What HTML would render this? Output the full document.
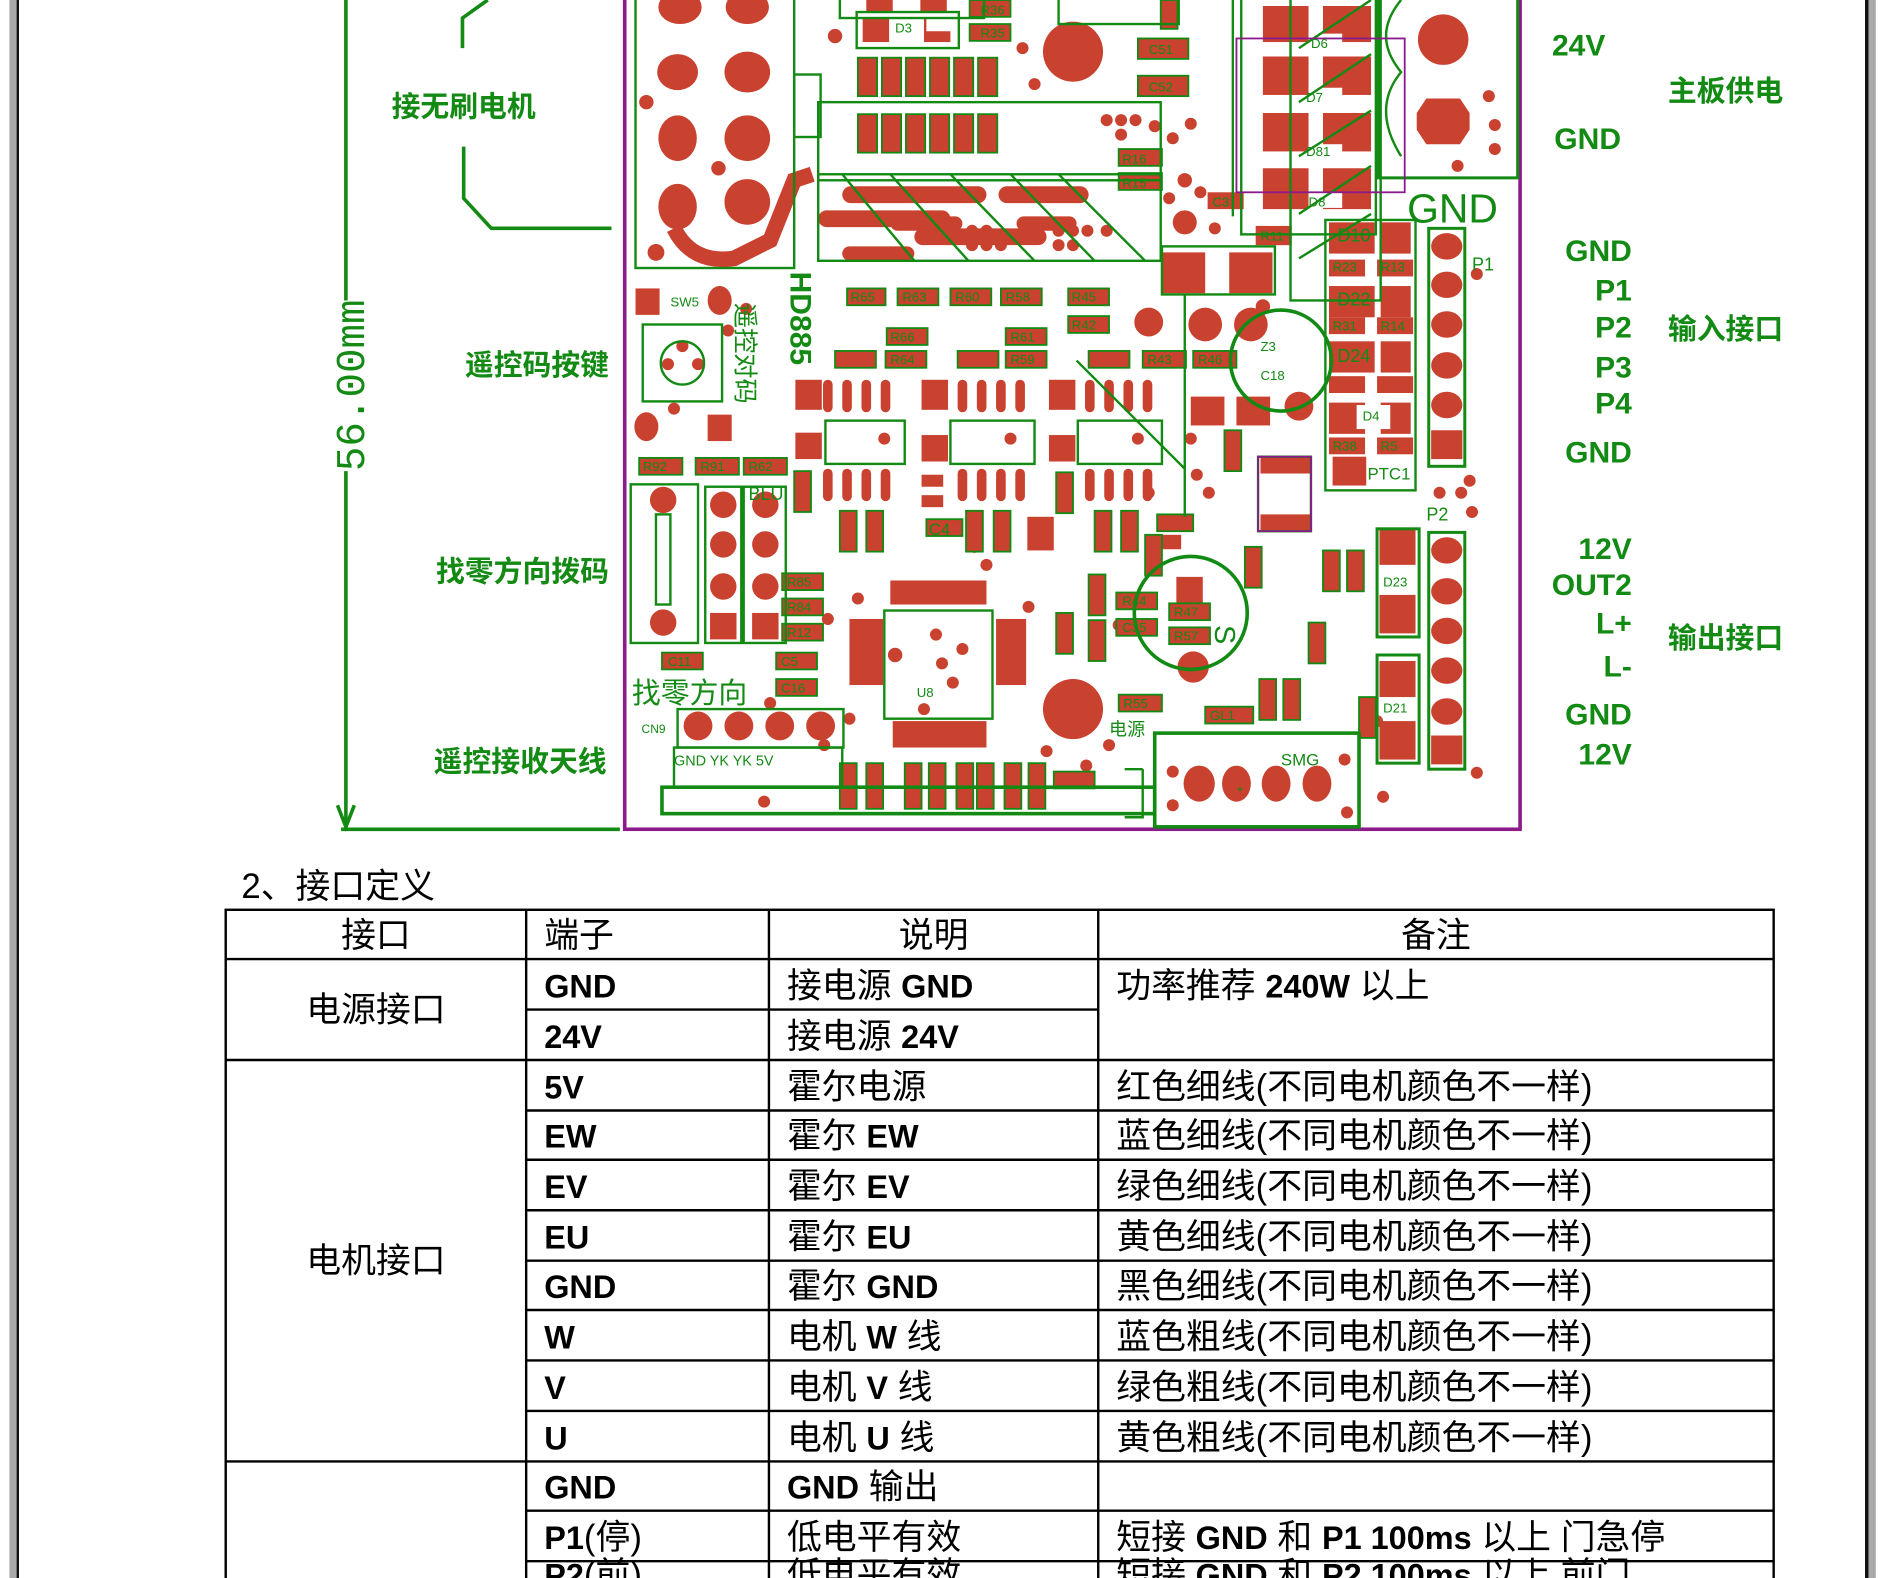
<!DOCTYPE html>
<html><head><meta charset="utf-8"><style>
html,body{margin:0;padding:0;background:#fff;}
svg{display:block}
.g{fill:#138a13;font-family:"Liberation Sans","Noto Sans CJK SC",sans-serif;font-weight:bold}
.gl{fill:#138a13;font-family:"Liberation Sans","Noto Sans CJK SC",sans-serif;font-size:11px}
.t{font-family:"Liberation Sans","Noto Sans CJK SC",sans-serif;font-size:29px;fill:#000}
.b{font-weight:bold}
</style></head><body>
<svg width="1884" height="1578" viewBox="0 0 1566 1313" xmlns="http://www.w3.org/2000/svg">
<rect x="0" y="0" width="1566" height="1313" fill="#fff"/>
<rect x="7" y="0" width="6" height="1313" fill="#aaa"/>
<rect x="13" y="0" width="2" height="1313" fill="#111"/>
<rect x="1551" y="0" width="3" height="1313" fill="#111"/>
<rect x="1554" y="0" width="6" height="1313" fill="#aaa"/>

<!-- dimension -->
<g stroke="#138a13" stroke-width="3" fill="none">
<line x1="287" y1="0" x2="287" y2="250"/>
<line x1="287" y1="392" x2="287" y2="688"/>
<polyline points="280,670 287,688 294,670"/>
<line x1="283" y1="690" x2="515" y2="690"/>
<polyline points="405,0 384,15 384,40"/>
<polyline points="385,122 385,165 408,190 508,190"/>
</g>
<text transform="translate(302,392) rotate(-90)" style="fill:#138a13;font-family:'Liberation Mono',monospace;font-size:34px">56.00mm</text>
<g class="g" font-size="24">
<text x="325" y="97">接无刷电机</text>
<text x="386" y="312">遥控码按键</text>
<text x="362" y="484">找零方向拨码</text>
<text x="360" y="642">遥控接收天线</text>
<text x="1387" y="84">主板供电</text>
<text x="1387" y="282">输入接口</text>
<text x="1387" y="539">输出接口</text>
</g>
<g class="g" font-size="25" text-anchor="end">
<text x="1335" y="46">24V</text>
<text x="1348" y="124">GND</text>
<text x="1357" y="217">GND</text>
<text x="1357" y="250">P1</text>
<text x="1357" y="281">P2</text>
<text x="1357" y="314">P3</text>
<text x="1357" y="344">P4</text>
<text x="1357" y="385">GND</text>
<text x="1357" y="465">12V</text>
<text x="1357" y="495">OUT2</text>
<text x="1357" y="527">L+</text>
<text x="1357" y="563">L-</text>
<text x="1357" y="603">GND</text>
<text x="1357" y="636">12V</text>
</g>

<!-- PCB -->
<g>
<rect x="519" y="-5" width="745" height="695" fill="none" stroke="#8b1a8b" stroke-width="3"/>
<g fill="#c9412f">
<!-- big left pads -->
<ellipse cx="565" cy="6" rx="18" ry="14"/><ellipse cx="621" cy="6" rx="18" ry="14"/>
<ellipse cx="563" cy="60" rx="17" ry="15"/><ellipse cx="621" cy="60" rx="19" ry="17"/>
<ellipse cx="563" cy="115" rx="16" ry="19"/><ellipse cx="621" cy="115" rx="19" ry="19"/>
<ellipse cx="563" cy="172" rx="16" ry="19"/><ellipse cx="621" cy="168" rx="19" ry="19"/>
<circle cx="537" cy="85" r="6"/><circle cx="597" cy="140" r="6"/><circle cx="545" cy="210" r="7"/>
<path d="M560 190 Q575 220 610 215 L640 200 L660 150 L675 145" stroke="#c9412f" stroke-width="13" fill="none"/>
<circle cx="892" cy="43" r="25"/><circle cx="892" cy="590" r="25"/>
<circle cx="694" cy="30" r="6"/><circle cx="850" cy="40" r="5"/><circle cx="860" cy="70" r="5"/>
<!-- slotted pads -->
<rect x="700" y="155" width="120" height="14" rx="7"/><rect x="830" y="155" width="75" height="14" rx="7"/>
<rect x="680" y="175" width="110" height="14" rx="7"/><rect x="760" y="190" width="110" height="14" rx="7"/>
<rect x="700" y="205" width="60" height="12" rx="6"/><rect x="740" y="180" width="60" height="12" rx="6"/>
<rect x="845" y="180" width="50" height="12" rx="6"/>
<!-- dot clusters -->
<circle cx="808" cy="192" r="5"/><circle cx="820" cy="192" r="5"/><circle cx="808" cy="204" r="5"/><circle cx="820" cy="204" r="5"/><circle cx="832" cy="204" r="5"/>
<circle cx="880" cy="192" r="5"/><circle cx="892" cy="192" r="5"/><circle cx="904" cy="192" r="5"/><circle cx="880" cy="204" r="5"/><circle cx="892" cy="204" r="5"/><circle cx="920" cy="192" r="5"/>
<circle cx="920" cy="100" r="5"/><circle cx="932" cy="100" r="5"/><circle cx="944" cy="100" r="5"/><circle cx="932" cy="112" r="5"/><circle cx="960" cy="105" r="5"/><circle cx="975" cy="115" r="5"/><circle cx="990" cy="103" r="5"/>
<circle cx="985" cy="185" r="10"/><circle cx="985" cy="150" r="6"/><circle cx="998" cy="160" r="5"/><circle cx="972" cy="165" r="5"/><circle cx="1010" cy="190" r="5"/>
<!-- D6..D8 -->
<rect x="1050" y="5" width="38" height="30"/><rect x="1100" y="5" width="40" height="30"/>
<rect x="1050" y="47" width="38" height="32"/><rect x="1100" y="47" width="40" height="32"/>
<rect x="1050" y="94" width="38" height="32"/><rect x="1100" y="94" width="40" height="32"/>
<rect x="1050" y="140" width="38" height="34"/><rect x="1100" y="140" width="40" height="34"/>
<!-- terminal -->
<circle cx="1200" cy="33" r="21"/><polygon points="1186,82 1214,82 1222,94 1222,108 1214,120 1186,120 1178,108 1178,94"/>
<circle cx="1238" cy="80" r="5"/><circle cx="1243" cy="104" r="5"/><circle cx="1243" cy="124" r="5"/><circle cx="1212" cy="138" r="5"/>
<!-- P1 pads -->
<ellipse cx="1203" cy="205" rx="13" ry="11"/><ellipse cx="1203" cy="237" rx="13" ry="11"/><ellipse cx="1203" cy="270" rx="13" ry="11"/><ellipse cx="1203" cy="304" rx="13" ry="11"/><ellipse cx="1203" cy="337" rx="13" ry="11"/><rect x="1190" y="358" width="26" height="24"/>
<ellipse cx="1203" cy="458" rx="13" ry="11"/><ellipse cx="1203" cy="492" rx="13" ry="11"/><ellipse cx="1203" cy="525" rx="13" ry="11"/><ellipse cx="1203" cy="558" rx="13" ry="11"/><ellipse cx="1203" cy="592" rx="13" ry="11"/><rect x="1190" y="612" width="26" height="24"/>
<circle cx="1228" cy="228" r="5"/><circle cx="1222" cy="400" r="5"/><circle cx="1197" cy="410" r="5"/><circle cx="1215" cy="410" r="5"/><circle cx="1224" cy="426" r="5"/><circle cx="1228" cy="643" r="5"/>
<!-- D10.. column -->
<rect x="1105" y="185" width="38" height="26"/><rect x="1148" y="185" width="25" height="26"/>
<rect x="1105" y="238" width="38" height="26"/><rect x="1148" y="238" width="25" height="26"/>
<rect x="1105" y="284" width="38" height="26"/><rect x="1148" y="284" width="25" height="26"/>
<rect x="1105" y="335" width="30" height="26"/><rect x="1148" y="335" width="25" height="26"/>
<rect x="1108" y="380" width="28" height="24"/>
<rect x="1105" y="216" width="30" height="14"/><rect x="1145" y="216" width="30" height="14"/>
<rect x="1105" y="264" width="30" height="14"/><rect x="1145" y="264" width="30" height="14"/>
<rect x="1105" y="313" width="30" height="14"/><rect x="1145" y="313" width="30" height="14"/>
<rect x="1105" y="364" width="30" height="14"/><rect x="1145" y="364" width="30" height="14"/>
<!-- D1 and circle area -->
<rect x="966" y="210" width="36" height="34"/><rect x="1022" y="210" width="36" height="34"/>
<circle cx="955" cy="268" r="12"/><circle cx="1002" cy="270" r="14"/><circle cx="1040" cy="270" r="14"/><circle cx="1080" cy="338" r="12"/><circle cx="1050" cy="255" r="6"/>
<rect x="1048" y="380" width="42" height="14"/><rect x="1048" y="428" width="42" height="14"/>
<rect x="990" y="330" width="28" height="24"/><rect x="1028" y="330" width="28" height="24"/>
<!-- D23/D21 -->
<rect x="1147" y="440" width="30" height="30"/><rect x="1147" y="495" width="30" height="32"/>
<rect x="1147" y="550" width="30" height="30"/><rect x="1147" y="600" width="30" height="32"/>
<!-- SMG -->
<ellipse cx="997" cy="652" rx="13" ry="15"/><ellipse cx="1028" cy="652" rx="12" ry="15"/><ellipse cx="1061" cy="652" rx="12" ry="15"/><ellipse cx="1095" cy="652" rx="12" ry="15"/>
<circle cx="975" cy="642" r="5"/><circle cx="975" cy="670" r="5"/><circle cx="1118" cy="632" r="5"/><circle cx="1120" cy="676" r="5"/><circle cx="1150" cy="663" r="5"/><circle cx="1145" cy="600" r="5"/>
<!-- LS1 -->
<rect x="978" y="480" width="22" height="24"/><circle cx="992" cy="555" r="13"/><rect x="962" y="445" width="20" height="12"/>
<!-- ICs -->
<g>
<rect x="684" y="316" width="8" height="27" rx="4"/><rect x="700" y="316" width="8" height="27" rx="4"/><rect x="716" y="316" width="8" height="27" rx="4"/><rect x="732" y="316" width="8" height="27" rx="4"/>
<rect x="684" y="390" width="8" height="27" rx="4"/><rect x="700" y="390" width="8" height="27" rx="4"/><rect x="716" y="390" width="8" height="27" rx="4"/><rect x="732" y="390" width="8" height="27" rx="4"/>
<rect x="796" y="316" width="8" height="27" rx="4"/><rect x="812" y="316" width="8" height="27" rx="4"/><rect x="828" y="316" width="8" height="27" rx="4"/><rect x="844" y="316" width="8" height="27" rx="4"/>
<rect x="796" y="390" width="8" height="27" rx="4"/><rect x="812" y="390" width="8" height="27" rx="4"/><rect x="828" y="390" width="8" height="27" rx="4"/><rect x="844" y="390" width="8" height="27" rx="4"/>
<rect x="902" y="316" width="8" height="27" rx="4"/><rect x="918" y="316" width="8" height="27" rx="4"/><rect x="934" y="316" width="8" height="27" rx="4"/><rect x="950" y="316" width="8" height="27" rx="4"/>
<rect x="902" y="390" width="8" height="27" rx="4"/><rect x="918" y="390" width="8" height="27" rx="4"/><rect x="934" y="390" width="8" height="27" rx="4"/><rect x="950" y="390" width="8" height="27" rx="4"/>
</g>
<rect x="661" y="316" width="22" height="25"/><rect x="766" y="316" width="22" height="25"/><rect x="872" y="316" width="22" height="25"/>
<rect x="661" y="360" width="22" height="22"/><rect x="766" y="362" width="22" height="22"/><rect x="872" y="362" width="22" height="22"/>
<circle cx="735" cy="365" r="5"/><circle cx="840" cy="365" r="5"/><circle cx="946" cy="365" r="5"/>
<rect x="766" y="395" width="18" height="10"/><rect x="766" y="412" width="18" height="10"/>
<rect x="854" y="430" width="22" height="28"/><rect x="740" y="483" width="80" height="20"/>
<!-- U8 -->
<rect x="706" y="515" width="28" height="55"/><rect x="828" y="515" width="25" height="55"/>
<rect x="742" y="600" width="78" height="22"/>
<circle cx="744" cy="545" r="6"/><circle cx="778" cy="528" r="5"/><circle cx="783" cy="552" r="5"/><circle cx="792" cy="568" r="5"/><circle cx="800" cy="540" r="5"/><circle cx="768" cy="590" r="5"/>
<!-- misc dots -->
<circle cx="713" cy="498" r="5"/><circle cx="688" cy="515" r="5"/><circle cx="706" cy="598" r="5"/><circle cx="810" cy="455" r="5"/><circle cx="820" cy="470" r="5"/><circle cx="855" cy="505" r="5"/><circle cx="930" cy="520" r="5"/><circle cx="870" cy="625" r="5"/><circle cx="955" cy="410" r="5"/><circle cx="995" cy="395" r="5"/><circle cx="990" cy="365" r="5"/><circle cx="1005" cy="410" r="5"/>
<circle cx="640" cy="585" r="5"/><circle cx="635" cy="667" r="5"/><circle cx="685" cy="620" r="5"/><circle cx="705" cy="640" r="5"/><circle cx="922" cy="620" r="5"/><circle cx="903" cy="637" r="5"/>
<!-- SW5 -->
<rect x="528" y="240" width="20" height="22"/><ellipse cx="598" cy="250" rx="10" ry="12"/>
<ellipse cx="537" cy="355" rx="10" ry="12"/><rect x="588" y="345" width="20" height="22"/>
<circle cx="567" cy="288" r="5"/><circle cx="555" cy="303" r="5"/><circle cx="580" cy="303" r="5"/>
<circle cx="620" cy="257" r="5"/><circle cx="605" cy="275" r="5"/><circle cx="560" cy="340" r="5"/>
<!-- SW6 / J -->
<circle cx="551" cy="416" r="11"/><circle cx="551" cy="518" r="11"/>
<circle cx="601" cy="420" r="11"/><circle cx="601" cy="453" r="11"/><circle cx="601" cy="488" r="11"/><rect x="590" y="510" width="22" height="22"/>
<circle cx="636" cy="420" r="11"/><circle cx="636" cy="453" r="11"/><circle cx="636" cy="488" r="11"/><rect x="625" y="510" width="22" height="22"/>
<!-- CN9 -->
<circle cx="580" cy="604" r="12"/><circle cx="614" cy="604" r="12"/><circle cx="648" cy="604" r="12"/><circle cx="682" cy="604" r="12"/>
<!-- D3/D2 top -->
<rect x="720" y="-2" width="22" height="12"/><rect x="765" y="-2" width="22" height="12"/>
<rect x="717" y="15" width="22" height="20"/><rect x="768" y="15" width="22" height="20"/>
<rect x="1004" y="160" width="30" height="14"/><rect x="1044" y="188" width="30" height="16"/>
</g>

<!-- small component boxes with labels -->
<g fill="#c9412f" stroke="#138a13" stroke-width="1.5">
<!-- vertical pairs top rows -->
<rect x="713" y="48" width="16" height="32"/><rect x="733" y="48" width="16" height="32"/><rect x="753" y="48" width="16" height="32"/><rect x="773" y="48" width="16" height="32"/><rect x="793" y="48" width="16" height="32"/><rect x="813" y="48" width="16" height="32"/>
<rect x="713" y="95" width="16" height="32"/><rect x="733" y="95" width="16" height="32"/><rect x="753" y="95" width="16" height="32"/><rect x="773" y="95" width="16" height="32"/><rect x="793" y="95" width="16" height="32"/><rect x="813" y="95" width="16" height="32"/>
<rect x="806" y="0" width="34" height="14"/><rect x="806" y="20" width="34" height="14"/>
<rect x="946" y="32" width="42" height="17"/><rect x="946" y="63" width="42" height="17"/>
<rect x="930" y="124" width="36" height="14"/><rect x="930" y="144" width="36" height="14"/>
<rect x="965" y="0" width="14" height="24"/>
<!-- mid row -->
<rect x="704" y="240" width="32" height="14"/><rect x="746" y="240" width="34" height="14"/><rect x="790" y="240" width="34" height="14"/><rect x="832" y="240" width="34" height="14"/><rect x="888" y="240" width="34" height="14"/>
<rect x="737" y="273" width="34" height="14"/><rect x="836" y="273" width="34" height="14"/><rect x="888" y="263" width="34" height="14"/>
<rect x="694" y="292" width="34" height="14"/><rect x="736" y="292" width="34" height="14"/><rect x="796" y="292" width="34" height="14"/><rect x="836" y="292" width="34" height="14"/><rect x="905" y="292" width="34" height="14"/>
<rect x="950" y="292" width="36" height="14"/><rect x="992" y="292" width="36" height="14"/>
<!-- lower row -->
<rect x="698" y="425" width="14" height="34"/><rect x="720" y="425" width="14" height="34"/><rect x="803" y="425" width="14" height="34"/><rect x="826" y="425" width="14" height="34"/>
<rect x="910" y="425" width="14" height="34"/><rect x="932" y="425" width="14" height="34"/><rect x="952" y="445" width="14" height="34"/>
<rect x="660" y="392" width="14" height="34"/><rect x="878" y="393" width="14" height="34"/><rect x="1018" y="358" width="14" height="34"/>
<rect x="770" y="432" width="30" height="14"/><rect x="962" y="428" width="30" height="14"/>
<rect x="650" y="477" width="34" height="14"/><rect x="650" y="498" width="34" height="14"/><rect x="650" y="519" width="34" height="14"/>
<rect x="645" y="543" width="34" height="14"/><rect x="645" y="565" width="34" height="14"/><rect x="550" y="543" width="34" height="14"/>
<rect x="531" y="381" width="36" height="14"/><rect x="578" y="381" width="36" height="14"/><rect x="618" y="381" width="36" height="14"/>
<rect x="878" y="510" width="14" height="34"/><rect x="905" y="478" width="14" height="34"/><rect x="905" y="516" width="14" height="34"/>
<rect x="928" y="493" width="34" height="14"/><rect x="928" y="515" width="34" height="14"/><rect x="972" y="502" width="34" height="14"/><rect x="972" y="522" width="34" height="14"/>
<rect x="930" y="578" width="36" height="14"/><rect x="1002" y="588" width="40" height="14"/>
<rect x="1047" y="565" width="14" height="34"/><rect x="1067" y="565" width="14" height="34"/><rect x="1130" y="580" width="14" height="34"/>
<rect x="1035" y="455" width="14" height="34"/><rect x="1100" y="458" width="14" height="34"/><rect x="1120" y="458" width="14" height="34"/>
<rect x="1088" y="518" width="14" height="34"/>
<rect x="698" y="635" width="14" height="38"/><rect x="720" y="635" width="14" height="38"/><rect x="752" y="635" width="14" height="38"/><rect x="772" y="635" width="14" height="38"/><rect x="795" y="635" width="14" height="38"/><rect x="812" y="635" width="14" height="38"/><rect x="835" y="635" width="14" height="38"/><rect x="855" y="635" width="14" height="38"/>
<rect x="876" y="642" width="34" height="14"/>
</g>
<g fill="#fff">
<rect x="770" y="12" width="22" height="14"/><rect x="1088" y="28" width="28" height="13"/><rect x="1088" y="73" width="28" height="13"/><rect x="1088" y="120" width="28" height="13"/><rect x="1088" y="160" width="28" height="13"/>
<rect x="1128" y="337" width="28" height="20"/><rect x="1137" y="384" width="40" height="20"/>
</g>

<!-- green outlines -->
<g fill="none" stroke="#138a13" stroke-width="2">
<rect x="528" y="-5" width="132" height="228"/>
<rect x="660" y="62" width="22" height="52"/>
<rect x="680" y="85" width="285" height="65"/>
<rect x="680" y="145" width="285" height="72"/>
<line x1="700" y1="145" x2="760" y2="217"/><line x1="740" y1="145" x2="805" y2="217"/><line x1="790" y1="145" x2="860" y2="217"/><line x1="840" y1="145" x2="910" y2="217"/><line x1="880" y1="145" x2="952" y2="217"/>
<rect x="698" y="-5" width="120" height="20"/><rect x="712" y="10" width="85" height="30"/>
<rect x="880" y="-5" width="100" height="25"/>
<rect x="1073" y="-5" width="75" height="255"/>
<rect x="1032" y="-5" width="112" height="200"/>
<line x1="1080" y1="40" x2="1140" y2="0"/><line x1="1080" y1="85" x2="1140" y2="45"/><line x1="1080" y1="130" x2="1140" y2="92"/><line x1="1080" y1="178" x2="1140" y2="138"/><line x1="1080" y1="215" x2="1140" y2="178"/>
<line x1="1025" y1="-5" x2="1025" y2="180"/>
<rect x="1146" y="-5" width="116" height="153" stroke-width="2.5"/>
<path d="M1165 0 Q1140 30 1165 60 Q1140 90 1165 130" stroke-width="2"/>
<rect x="1188" y="190" width="30" height="198" stroke-width="2.5"/>
<rect x="1188" y="443" width="30" height="197" stroke-width="2.5"/>
<circle cx="1065" cy="300" r="42" stroke-width="3"/>
<circle cx="990" cy="510" r="47" stroke-width="3"/>
<rect x="960" y="610" width="170" height="78" stroke-width="3"/>
<rect x="1145" y="440" width="35" height="90" stroke-width="2.5"/><rect x="1145" y="545" width="35" height="90" stroke-width="2.5"/>
<rect x="1046" y="380" width="44" height="62"/>
<rect x="966" y="205" width="94" height="40"/>
<rect x="1102" y="183" width="75" height="225"/>
<rect x="686" y="350" width="66" height="36"/><rect x="790" y="350" width="70" height="36"/><rect x="896" y="350" width="70" height="36"/>
<rect x="735" y="508" width="90" height="90"/>
<rect x="534" y="270" width="66" height="64"/>
<circle cx="567" cy="302" r="18"/>
<rect x="524" y="403" width="56" height="132"/><rect x="545" y="428" width="12" height="75"/>
<rect x="586" y="405" width="30" height="130"/><rect x="618" y="405" width="35" height="130"/>
<rect x="563" y="590" width="138" height="32"/><rect x="550" y="655" width="410" height="22" stroke-width="3"/>
<rect x="560" y="622" width="140" height="33"/>
<line x1="985" y1="245" x2="985" y2="430"/><line x1="895" y1="300" x2="985" y2="390"/>
<polyline points="950,640 950,680 935,680" /><polyline points="935,640 950,640"/>
</g>
<rect x="1028" y="32" width="140" height="128" fill="none" stroke="#8b1a8b" stroke-width="1.5"/>
<rect x="1046" y="380" width="44" height="62" fill="none" stroke="#8b1a8b" stroke-width="1.5"/>

<!-- labels -->
<g class="gl">
<text x="815" y="12">R36</text><text x="815" y="31">R35</text><text x="744" y="27">D3</text>
<text x="955" y="45">C51</text><text x="955" y="76">C52</text>
<text x="933" y="136">R16</text><text x="933" y="156">R15</text>
<text x="707" y="251">R65</text><text x="750" y="251">R63</text><text x="794" y="251">R60</text><text x="836" y="251">R58</text><text x="891" y="251">R45</text>
<text x="740" y="284">R66</text><text x="840" y="284">R61</text><text x="891" y="274">R42</text>
<text x="740" y="303">R64</text><text x="840" y="303">R59</text><text x="954" y="303">R43</text><text x="996" y="303">R46</text>
<text x="534" y="392">R92</text><text x="582" y="392">R91</text><text x="622" y="392">R62</text>
<text x="654" y="488">R85</text><text x="654" y="509">R84</text><text x="654" y="530">R12</text>
<text x="649" y="554">C5</text><text x="649" y="576">C16</text><text x="555" y="554">C11</text>
<text x="933" y="504">R44</text><text x="933" y="526">C35</text><text x="976" y="513">R47</text><text x="976" y="533">R57</text>
<text x="934" y="589">R55</text><text x="1006" y="599">GL1</text>
<text x="1112" y="201" font-size="15">D10</text><text x="1112" y="254" font-size="15">D22</text><text x="1112" y="301" font-size="15">D24</text>
<text x="1133" y="350">D4</text><text x="1108" y="226">R23</text><text x="1148" y="226">R13</text>
<text x="1108" y="275">R31</text><text x="1148" y="275">R14</text><text x="1108" y="375">R38</text><text x="1148" y="375">R5</text>
<text x="1137" y="399" font-size="14">PTC1</text>
<text x="1150" y="488">D23</text><text x="1150" y="593">D21</text>
<text x="1065" y="637" font-size="14">SMG</text>
<text x="1186" y="433" font-size="15">P2</text><text x="1224" y="225" font-size="15">P1</text>
<text x="557" y="255">SW5</text><text x="622" y="416" font-size="15">BLU</text>
<text x="762" y="580">U8</text><text x="533" y="610" font-size="10">CN9</text>
<text x="560" y="637" font-size="12">GND  YK  YK   5V</text>
<text x="1008" y="172">C3</text><text x="1048" y="200">R11</text>
<text x="1090" y="40">D6</text><text x="1086" y="85">D7</text><text x="1086" y="130">D81</text><text x="1088" y="172">D8</text>
<text x="1048" y="292">Z3</text><text x="1048" y="316">C18</text>
<text x="1028" y="660" font-size="10">+</text>
<text x="772" y="445" font-size="14">C4</text>
</g>
<text x="1170" y="185" class="g" style="font-size:34px;font-weight:normal;font-family:'Liberation Sans Narrow','Liberation Sans',sans-serif">GND</text>
<text transform="translate(657,226) rotate(90)" class="g" style="font-size:25px">HD885</text>
<text transform="translate(612,252) rotate(90)" style="fill:#138a13;font-family:'Noto Sans CJK SC',sans-serif;font-size:21px">遥控对码</text>
<text x="525" y="585" style="fill:#138a13;font-family:'Noto Sans CJK SC',sans-serif;font-size:24px">找零方向</text>
<text x="922" y="612" style="fill:#138a13;font-family:'Noto Sans CJK SC',sans-serif;font-size:15px">电源</text>
<text transform="translate(1010,520) rotate(90)" class="g" style="font-size:24px;font-weight:normal">S</text>
</g>

<!-- Section title -->
<text x="200" y="747" class="t" style="font-size:29px">2、接口定义</text>

<!-- table -->
<g stroke="#000" stroke-width="2" fill="none">
<rect x="187" y="757" width="1288" height="560"/>
<line x1="437" y1="757" x2="437" y2="1313"/>
<line x1="639" y1="757" x2="639" y2="1313"/>
<line x1="913" y1="757" x2="913" y2="1313"/>
<line x1="187" y1="798" x2="1475" y2="798"/>
<line x1="437" y1="840" x2="913" y2="840"/>
<line x1="187" y1="882" x2="1475" y2="882"/>
<line x1="437" y1="924" x2="1475" y2="924"/>
<line x1="437" y1="965" x2="1475" y2="965"/>
<line x1="437" y1="1007" x2="1475" y2="1007"/>
<line x1="437" y1="1049" x2="1475" y2="1049"/>
<line x1="437" y1="1090" x2="1475" y2="1090"/>
<line x1="437" y1="1132" x2="1475" y2="1132"/>
<line x1="437" y1="1174" x2="1475" y2="1174"/>
<line x1="187" y1="1216" x2="1475" y2="1216"/>
<line x1="437" y1="1257" x2="1475" y2="1257"/>
<line x1="437" y1="1299" x2="1475" y2="1299"/>
</g>
<g class="t">
<text x="312" y="788" text-anchor="middle">接口</text>
<text x="452" y="788">端子</text>
<text x="776" y="788" text-anchor="middle">说明</text>
<text x="1194" y="788" text-anchor="middle">备注</text>
<text x="312" y="850" text-anchor="middle">电源接口</text>
<text x="312" y="1059" text-anchor="middle">电机接口</text>
<g class="b" style="font-size:27px">
<text x="452" y="830">GND</text><text x="452" y="872">24V</text><text x="452" y="914">5V</text><text x="452" y="955">EW</text><text x="452" y="997">EV</text><text x="452" y="1039">EU</text><text x="452" y="1080">GND</text><text x="452" y="1122">W</text><text x="452" y="1164">V</text><text x="452" y="1206">U</text><text x="452" y="1247">GND</text>
</g>
<text x="452" y="1289"><tspan class="b" style="font-size:27px">P1</tspan>(停)</text>
<text x="452" y="1320"><tspan class="b" style="font-size:27px">P2</tspan>(前)</text>
<text x="654" y="830">接电源 <tspan class="b" style="font-size:27px">GND</tspan></text>
<text x="654" y="872">接电源 <tspan class="b" style="font-size:27px">24V</tspan></text>
<text x="654" y="914">霍尔电源</text>
<text x="654" y="955">霍尔 <tspan class="b" style="font-size:27px">EW</tspan></text>
<text x="654" y="997">霍尔 <tspan class="b" style="font-size:27px">EV</tspan></text>
<text x="654" y="1039">霍尔 <tspan class="b" style="font-size:27px">EU</tspan></text>
<text x="654" y="1080">霍尔 <tspan class="b" style="font-size:27px">GND</tspan></text>
<text x="654" y="1122">电机 <tspan class="b" style="font-size:27px">W</tspan> 线</text>
<text x="654" y="1164">电机 <tspan class="b" style="font-size:27px">V</tspan> 线</text>
<text x="654" y="1206">电机 <tspan class="b" style="font-size:27px">U</tspan> 线</text>
<text x="654" y="1247"><tspan class="b" style="font-size:27px">GND</tspan> 输出</text>
<text x="654" y="1289">低电平有效</text>
<text x="654" y="1320">低电平有效</text>
<text x="928" y="830">功率推荐 <tspan class="b" style="font-size:27px">240W</tspan> 以上</text>
<text x="928" y="914">红色细线(不同电机颜色不一样)</text>
<text x="928" y="955">蓝色细线(不同电机颜色不一样)</text>
<text x="928" y="997">绿色细线(不同电机颜色不一样)</text>
<text x="928" y="1039">黄色细线(不同电机颜色不一样)</text>
<text x="928" y="1080">黑色细线(不同电机颜色不一样)</text>
<text x="928" y="1122">蓝色粗线(不同电机颜色不一样)</text>
<text x="928" y="1164">绿色粗线(不同电机颜色不一样)</text>
<text x="928" y="1206">黄色粗线(不同电机颜色不一样)</text>
<text x="928" y="1289">短接 <tspan class="b" style="font-size:27px">GND</tspan> 和 <tspan class="b" style="font-size:27px">P1 100ms</tspan> 以上 门急停</text>
<text x="928" y="1320">短接 <tspan class="b" style="font-size:27px">GND</tspan> 和 <tspan class="b" style="font-size:27px">P2 100ms</tspan> 以上 前门</text>
</g>
</svg>
</body></html>
